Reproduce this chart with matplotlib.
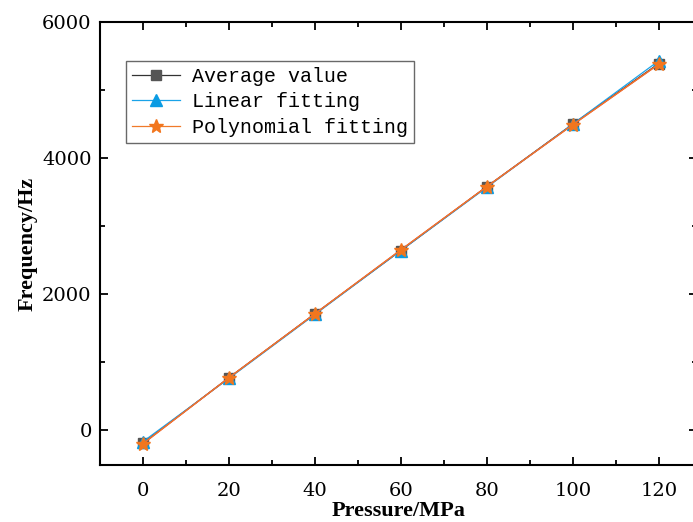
import matplotlib
matplotlib.use("Agg")
import matplotlib.pyplot as plt
from matplotlib.ticker import MultipleLocator

pressure = [0, 20, 40, 60, 80, 100, 120]
average_value = [-190, 770, 1710, 2640, 3580, 4500, 5390]
linear_fitting = [-170, 760, 1700, 2640, 3570, 4500, 5430]
polynomial_fitting = [-200, 770, 1710, 2650, 3580, 4490, 5380]

fig = plt.figure(figsize=(6.93, 5.22), dpi=100)
ax = fig.add_axes([0.1443, 0.109, 0.862, 0.8487])

ax.plot(pressure, average_value, color="#333333", lw=0.9, marker="s", ms=7,
        mfc="#555555", mec="#555555", label="Average value", zorder=3)
ax.plot(pressure, linear_fitting, color="#1aa3e8", lw=0.9, marker="^", ms=9,
        mfc="#0a9be3", mec="#0a9be3", label="Linear fitting", zorder=4)
ax.plot(pressure, polynomial_fitting, color="#f07a2a", lw=0.9, marker="*", ms=10,
        mfc="#f2761e", mec="#f2761e", label="Polynomial fitting", zorder=5)
# red overlay line as in the reference
ax.plot(pressure, polynomial_fitting, color="#e8403a", lw=1.0, zorder=4.5)

ax.set_xlim(-10, 129)
ax.set_ylim(-515, 6000)
ax.xaxis.set_major_locator(MultipleLocator(20))
ax.xaxis.set_minor_locator(MultipleLocator(10))
ax.yaxis.set_major_locator(MultipleLocator(2000))
ax.yaxis.set_minor_locator(MultipleLocator(1000))
ax.tick_params(which="both", direction="in", top=True, right=True, width=1.3)
ax.tick_params(which="major", length=6, labelsize=14)
ax.tick_params(axis="x", which="major", pad=12)
ax.tick_params(axis="y", which="major", pad=6)
ax.tick_params(which="minor", length=3.5)
for lab in ax.get_xticklabels() + ax.get_yticklabels():
    lab.set_fontfamily("DejaVu Serif")
for s in ax.spines.values():
    s.set_linewidth(1.5)

ax.set_xlabel("Pressure/MPa", fontsize=16, fontweight="bold",
              fontfamily="Liberation Serif", labelpad=1)
ax.set_ylabel("Frequency/Hz", fontsize=16, fontweight="bold",
              fontfamily="Liberation Serif", labelpad=3)

leg = ax.legend(loc="upper left", bbox_to_anchor=(0.044, 0.912), frameon=True,
                fancybox=False, edgecolor="#444444", borderpad=0.3,
                borderaxespad=0, handlelength=2.4, handletextpad=0.6,
                labelspacing=0.32,
                prop={"family": "Liberation Mono", "size": 14.4})
leg.get_frame().set_linewidth(1.0)

fig.savefig("out.png", dpi=100)
